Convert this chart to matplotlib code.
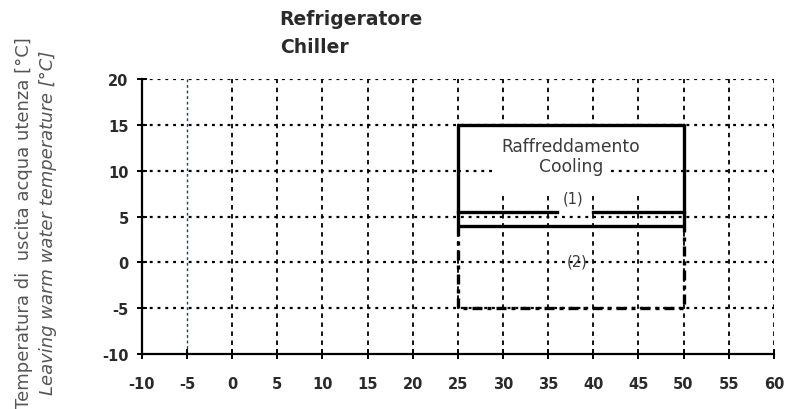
import matplotlib.pyplot as plt

plt.rcParams['font.family'] = ['DejaVu Sans']
plt.rcParams['axes.unicode_minus'] = False

# data
x_ticks = list(range(-10, 61, 5))
y_ticks = list(range(-10, 21, 5))

# cooling envelope (1): solid outline
cool_x = [25, 25, 50, 50, 25]
cool_y = [4, 15, 15, 4, 4]
# inner limit line with a gap for the "(1)" label
inner_left_x = [25, 36]
inner_right_x = [40, 50]
inner_y = [5.5, 5.5]
# extended envelope (2): dashed
ext_x = [25, 25, 50, 50]
ext_y = [4, -5, -5, 4]
# dotted base line
base_x = [0, 60]
base_y = [-10, -10]

fig = plt.figure(figsize=(7.88, 4.10), dpi=100)
ax = fig.add_axes([0.180, 0.134, 0.802, 0.671])

ax.set_xlim(-10, 60)
ax.set_ylim(-10, 20)

hdots = (0, (1.3, 2.2))
vdash = (0, (2.5, 2.5))

# grid
for yv in y_ticks[1:]:
    ax.plot([-10, 60], [yv, yv], color='black', lw=1.6,
            linestyle=hdots, zorder=1)
for xv in x_ticks[1:]:
    if xv == -5:
        ax.plot([xv, xv], [-10, 20], color='#1f3a80', lw=1.0,
                linestyle=(0, (2, 2)), zorder=1)
    else:
        ax.plot([xv, xv], [-10, 20], color='black', lw=1.3,
                linestyle=vdash, zorder=1)

ax.plot(base_x, base_y, color='black', lw=1.3,
        linestyle=(0, (2, 2)), zorder=2)

# white area behind the cooling label
ax.fill_between([25, 50], 7.6, 15, color='white', zorder=2)
ax.plot([25, 29], [10, 10], color='black', lw=1.6,
        linestyle=hdots, zorder=2.5)
ax.plot([42, 50], [10, 10], color='black', lw=1.6,
        linestyle=hdots, zorder=2.5)

ax.plot(cool_x, cool_y, color='black', lw=2.4, zorder=4,
        solid_capstyle='butt')
ax.plot(inner_left_x, inner_y, color='black', lw=2.4, zorder=4)
ax.plot(inner_right_x, inner_y, color='black', lw=2.4, zorder=4)
ax.plot(ext_x, ext_y, color='black', lw=2.4, zorder=4,
        linestyle=(0, (3, 1.5, 1.2, 1.5)))

ax.text(37.5, 11.6, 'Raffreddamento\nCooling', ha='center', va='center',
        fontsize=12.3, color='#3a3a3a', linespacing=1.2, zorder=5)
ax.text(37.8, 7.0, '(1)', ha='center', va='center', fontsize=10.5,
        color='#3a3a3a', zorder=5)
ax.text(38.2, 0.1, '(2)', ha='center', va='center', fontsize=10.5,
        color='#3a3a3a', zorder=5)

# axes styling
ax.spines['top'].set_visible(False)
ax.spines['right'].set_visible(False)
ax.spines['left'].set_linewidth(1.6)
ax.spines['bottom'].set_linewidth(1.6)
ax.set_xticks(x_ticks)
ax.set_yticks(y_ticks)
ax.tick_params(direction='inout', length=7, width=1.4, colors='black',
               labelcolor='#2a2a2a', labelsize=10.5, pad=6)
ax.tick_params(axis='x', pad=12)
for lbl in ax.get_xticklabels() + ax.get_yticklabels():
    lbl.set_fontweight('bold')

fig.text(0.355, 0.953, 'Refrigeratore', fontsize=13.5, fontweight='bold',
         color='#2a2a2a', ha='left', va='center')
fig.text(0.355, 0.885, 'Chiller', fontsize=13.5, fontweight='bold',
         color='#2a2a2a', ha='left', va='center')

fig.text(0.030, 0.456, 'Temperatura di  uscita acqua utenza [°C]',
         rotation=90, fontsize=13, color='#555555', ha='center', va='center')
fig.text(0.061, 0.456, 'Leaving warm water temperature [°C]',
         rotation=90, fontsize=13, color='#555555', style='italic',
         ha='center', va='center')

fig.savefig('out.png', dpi=100)
